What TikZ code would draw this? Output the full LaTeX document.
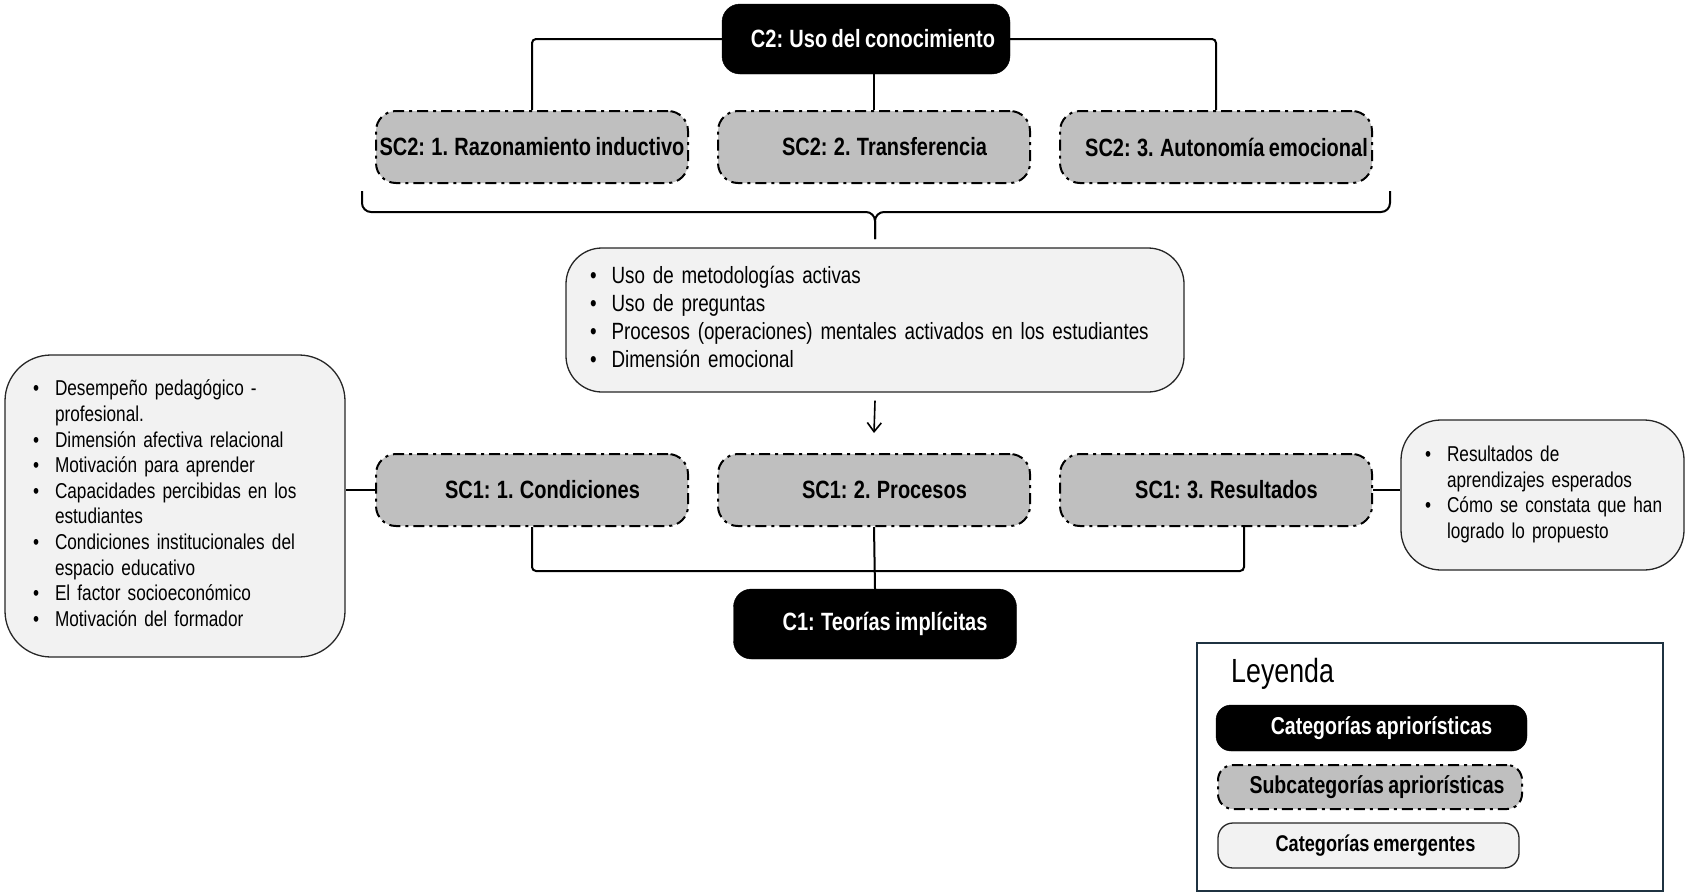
\documentclass[tikz,border=0pt]{standalone}
\usepackage{fontspec}
\setmainfont{Liberation Sans}[FakeStretch=0.8, WordSpace=0.8]
\usetikzlibrary{arrows.meta}
\definecolor{subfill}{HTML}{BFBFBF}
\definecolor{emfill}{HTML}{F2F2F2}
\definecolor{legborder}{HTML}{1F3341}
\newcommand{\titlefont}{\bfseries\fontsize{25}{29}\selectfont}
\newcommand{\pad}{\hspace{21pt}}
\begin{document}
\begin{tikzpicture}[x=1pt,y=-1pt,
  catbox/.style={rectangle, rounded corners=18pt, fill=black, draw=black, text=white,
    font=\titlefont, inner sep=0pt},
  subbox/.style={rectangle, rounded corners=20pt, fill=subfill, draw=black, line width=2pt,
    dash pattern=on 11pt off 5pt on 3pt off 5pt, font=\titlefont,
    minimum width=312pt, minimum height=72pt, inner sep=0pt},
  embox/.style={rectangle, fill=emfill, draw=black!85, line width=1.3pt, align=left, inner ysep=0pt},
  link/.style={draw=black, line width=2pt, rounded corners=4pt},
  legtext/.style={font=\bfseries\fontsize{24.4}{28}\selectfont}
]
\useasboundingbox (0,0) rectangle (1686,895);

% --- C2 and its subcategories
\node[catbox, minimum width=288pt, minimum height=70pt] (c2) at (866,39) {\hspace{14pt}C2: Uso del conocimiento};
\node[subbox] (s21) at (532,147) {SC2: 1. Razonamiento inductivo};
\node[subbox] (s22) at (874,147) {\pad SC2: 2. Transferencia};
\node[subbox] (s23) at (1216,147) {\pad SC2: 3. Autonomía emocional};

\draw[link] (c2.west) -| (s21.north);
\draw[link] (c2.east) -| (s23.north);
\draw[link] (s22.north |- c2.south) -- (s22.north);

% --- brace under SC2 row
\coordinate (brL) at (362,191);
\coordinate (brR) at (1390,191);
\coordinate (brT) at (875,239);
\draw[line width=2pt, rounded corners=9pt] (brL) -- (brL |- 0,212) -- (brT |- 0,212) -- (brT);
\draw[line width=2pt, rounded corners=9pt] (brR) -- (brR |- 0,212) -- (brT |- 0,212) -- (brT);

% --- emergent box (C2)
\node[embox, rounded corners=36pt, text width=570pt, inner xsep=24pt, minimum height=144pt,
  font=\fontsize{23.5}{28}\selectfont] (em) at (875,320) {%
  \begin{tabular}{@{}l@{\hspace{15pt}}l@{}}
  • & Uso de metodologías activas\\
  • & Uso de preguntas\\
  • & Procesos (operaciones) mentales activados en los estudiantes\\
  • & Dimensión emocional
  \end{tabular}};

% --- C1 subcategories
\node[subbox] (s11) at (532,490) {\pad SC1: 1. Condiciones};
\node[subbox] (s12) at (874,490) {\pad SC1: 2. Procesos};
\node[subbox] (s13) at (1216,490) {\pad SC1: 3. Resultados};

\draw[line width=1.6pt, -{Straight Barb[length=9pt,width=14pt]}] ([yshift=-8pt]em.south) -- ([yshift=20pt]s12.north);

\node[catbox, minimum width=283pt, minimum height=70pt] (c1) at (875,624) {\hspace{20pt}C1: Teorías implícitas};

\draw[link] (s11.south) -- ++(0,44) -| ([xshift=28pt]s13.south);
\draw[link] (s12.south) -- (c1.north);

% --- left emergent box
\node[embox, rounded corners=46pt, text width=284pt, inner xsep=28pt, minimum height=302pt,
  font=\fontsize{21.5}{25.6}\selectfont] (lft) at (175,506) {%
  \begin{tabular}{@{}l@{\hspace{16pt}}l@{}}
  • & Desempeño pedagógico -\\
    & profesional.\\
  • & Dimensión afectiva relacional\\
  • & Motivación para aprender\\
  • & Capacidades percibidas en los\\
    & estudiantes\\
  • & Condiciones institucionales del\\
    & espacio educativo\\
  • & El factor socioeconómico\\
  • & Motivación del formador
  \end{tabular}};
\draw[link] (s11.west) -- (s11.west -| lft.east);

% --- right emergent box
\node[embox, rounded corners=40pt, text width=235pt, inner xsep=24pt, minimum height=150pt,
  font=\fontsize{21.5}{25.6}\selectfont] (rgt) at (1542.5,495) {%
  \begin{tabular}{@{}l@{\hspace{16pt}}l@{}}
  • & Resultados de\\
    & aprendizajes esperados\\
  • & Cómo se constata que han\\
    & logrado lo propuesto
  \end{tabular}};
\draw[link] (s13.east) -- (s13.east -| rgt.west);

% --- legend
\node[rectangle, draw=legborder, line width=2.5pt, minimum width=466pt, minimum height=248pt] (leg) at (1430,767) {};
\node[anchor=west, font=\fontsize{33.5}{38}\selectfont, inner sep=0pt] (legtitle) at (1231,674) {Leyenda};
\node[catbox, rounded corners=15pt, minimum width=311pt, minimum height=46pt, legtext] (lg1) at (1371.5,728) {\hspace{20pt}Categorías apriorísticas};
\node[subbox, rounded corners=15pt, minimum width=304pt, minimum height=44pt, legtext] (lg2) at (1370,787) {\hspace{14pt}Subcategorías apriorísticas};
\node[embox, rounded corners=15pt, minimum width=301pt, minimum height=45pt, inner xsep=0pt,
  font=\bfseries\fontsize{22.7}{26}\selectfont] (lg3) at (1368.5,845.5) {\hspace{14pt}Categorías emergentes};
\end{tikzpicture}
\end{document}
